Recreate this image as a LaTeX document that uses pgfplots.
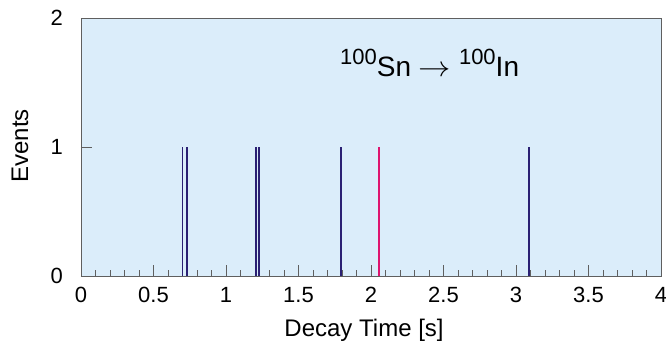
\documentclass[border=0pt]{standalone}
\usepackage{fontspec}
\setmainfont{Liberation Sans}
\usepackage{pgfplots}
\pgfplotsset{compat=1.18}
\definecolor{bgblue}{RGB}{219,237,250}
\definecolor{navy}{RGB}{42,32,115}
\definecolor{mag}{RGB}{222,20,110}
\definecolor{frame}{RGB}{95,95,95}
\newcommand{\sups}[1]{{\fontsize{22}{26}\selectfont\raisebox{12pt}{#1}}}
\begin{document}
\begin{tikzpicture}
\useasboundingbox (-81pt,-71pt) rectangle (585pt,276pt);
\begin{axis}[
  scale only axis,
  width=580pt, height=258pt,
  xmin=0, xmax=4, ymin=0, ymax=2,
  axis background/.style={fill=bgblue},
  axis line style={frame, line width=0.9pt},
  xtick={0,0.5,...,4}, minor x tick num=4,
  ytick={0,1,2},
  xtick pos=left, ytick pos=left,
  tick align=inside,
  major tick length=11pt, minor tick length=6pt,
  tick style={frame, line width=0.7pt},
  /pgf/number format/assume math mode=true,
  tick label style={font=\fontsize{22}{26}\selectfont, inner sep=0pt},
  xticklabel style={anchor=base, yshift=-27pt},
  yticklabel style={anchor=east, xshift=-18pt},
  xlabel={Decay Time [s]},
  ylabel={Events},
  label style={font=\fontsize{24}{28}\selectfont, inner sep=0pt},
  xlabel style={at={(axis description cs:0.488,0)}, anchor=base, yshift=-61pt},
  ylabel style={at={(axis description cs:-0.1052,0.505)}, anchor=center},
  clip=false,
]
\addplot[ycomb, no marks, navy, line width=1.9pt] coordinates {
  (0.700,1) (0.729,1) (1.207,1) (1.230,1) (1.793,1) (3.092,1)
};
\addplot[ycomb, no marks, mag, line width=1.9pt] coordinates {
  (2.053,1)
};
\node[anchor=base west, font=\fontsize{28}{32}\selectfont, inner sep=0pt] at (axis cs:1.786,1.543)
  {\sups{100}Sn \scalebox{1.3}[1.15]{$\rightarrow$} \sups{100}In};
\end{axis}
\end{tikzpicture}
\end{document}
